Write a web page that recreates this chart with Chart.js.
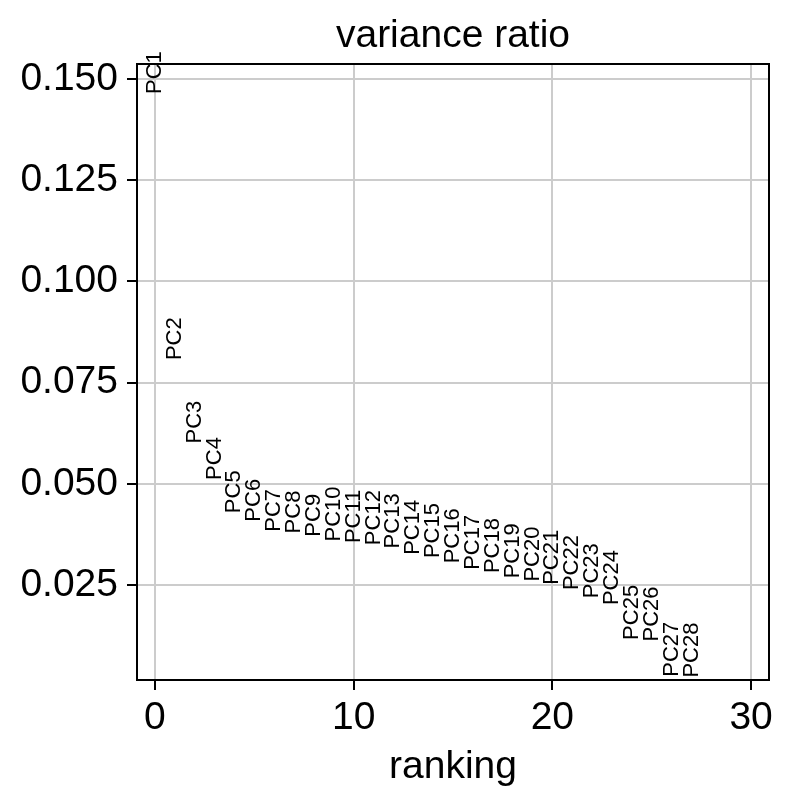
<!DOCTYPE html>
<html>
<head>
<meta charset="utf-8">
<script src="https://cdn.jsdelivr.net/npm/chart.js@4.4.1/dist/chart.umd.min.js"></script>
<style>
  html, body { margin: 0; padding: 0; background: #fff; }
  #wrap { width: 792px; height: 803px; }
</style>
</head>
<body>
<div id="wrap"><canvas id="chart" width="792" height="803"></canvas></div>
<script>
// values (scanpy pca_variance_ratio)
var PC_LABELS = ["PC1", "PC2", "PC3", "PC4", "PC5", "PC6", "PC7", "PC8", "PC9", "PC10",
  "PC11", "PC12", "PC13", "PC14", "PC15", "PC16", "PC17", "PC18", "PC19", "PC20",
  "PC21", "PC22", "PC23", "PC24", "PC25", "PC26", "PC27", "PC28"];
var RANKS = [0, 1, 2, 3, 4, 5, 6, 7, 8, 9, 10, 11, 12, 13, 14, 15, 16, 17, 18, 19,
  20, 21, 22, 23, 24, 25, 26, 27];
var VARIANCE_RATIO = [0.1463, 0.0806, 0.0600, 0.0510, 0.0428, 0.0407, 0.0382, 0.0378,
  0.0370, 0.0358, 0.0354, 0.0349, 0.0341, 0.0325, 0.0317, 0.0304, 0.0288, 0.0280,
  0.0267, 0.0259, 0.0251, 0.0238, 0.0218, 0.0201, 0.0115, 0.0111, 0.0024, 0.0022];
var X_TICKS = [0, 10, 20, 30];
var Y_TICKS = [0.025, 0.050, 0.075, 0.100, 0.125, 0.150];
var TITLE = "variance ratio";

var FONT = "'Liberation Sans', Arial, sans-serif";

var points = RANKS.map(function (r, i) {
  return { x: r, y: VARIANCE_RATIO[i] };
});

// PC names standing upright from each point, like ax.text(rotation=90, va=bottom)
var pcLabels = {
  id: "pcLabels",
  afterDatasetsDraw: function (chart) {
    var ctx = chart.ctx;
    var meta = chart.getDatasetMeta(0);
    ctx.save();
    ctx.fillStyle = "#000";
    ctx.font = "22px " + FONT;
    ctx.textAlign = "left";
    ctx.textBaseline = "middle";
    meta.data.forEach(function (pt, i) {
      ctx.save();
      ctx.translate(pt.x, pt.y);
      ctx.rotate(-Math.PI / 2);
      ctx.fillText(PC_LABELS[i], 0, 0);
      ctx.restore();
    });
    ctx.restore();
  }
};

// black box around the axes, title centred over the axes (matplotlib style)
var frame = {
  id: "frame",
  afterDraw: function (chart) {
    var a = chart.chartArea;
    var ctx = chart.ctx;
    ctx.save();
    ctx.strokeStyle = "#000";
    ctx.lineWidth = 2;
    ctx.strokeRect(a.left, a.top, a.right - a.left, a.bottom - a.top);
    ctx.fillStyle = "#000";
    ctx.font = "39px " + FONT;
    ctx.textAlign = "center";
    ctx.textBaseline = "alphabetic";
    ctx.fillText(TITLE, (a.left + a.right) / 2, a.top - 17);
    ctx.restore();
  }
};

Chart.defaults.font.family = FONT;
Chart.defaults.color = "#000";

new Chart(document.getElementById("chart"), {
  type: "scatter",
  data: {
    datasets: [{
      data: points,
      pointRadius: 0,
      pointHoverRadius: 0,
      showLine: false
    }]
  },
  options: {
    responsive: false,
    animation: false,
    events: [],
    layout: { padding: { left: 0, right: 23, top: 64, bottom: 0 } },
    plugins: {
      legend: { display: false },
      tooltip: { enabled: false },
      title: { display: false }
    },
    scales: {
      x: {
        type: "linear",
        min: -0.9,
        max: 30.9,
        afterBuildTicks: function (scale) {
          scale.ticks = X_TICKS.map(function (v) { return { value: v }; });
        },
        afterFit: function (scale) { scale.height = 123; },
        ticks: {
          font: { size: 39 },
          color: "#000",
          padding: 5,
          maxRotation: 0,
          autoSkip: false,
          callback: function (v) { return String(v); }
        },
        grid: {
          color: "#cccccc",
          lineWidth: 2,
          drawTicks: true,
          tickLength: 10,
          tickColor: "#000",
          tickWidth: 2
        },
        border: { display: false },
        title: {
          display: true,
          text: "ranking",
          color: "#000",
          font: { size: 39 },
          padding: { top: 0, bottom: 12 }
        }
      },
      y: {
        type: "linear",
        min: 0.0016,
        max: 0.1537,
        afterBuildTicks: function (scale) {
          scale.ticks = Y_TICKS.map(function (v) { return { value: v }; });
        },
        afterFit: function (scale) { scale.width = 137; },
        ticks: {
          font: { size: 39 },
          color: "#000",
          padding: 9,
          autoSkip: false,
          callback: function (v) { return v.toFixed(3); }
        },
        grid: {
          color: "#cccccc",
          lineWidth: 2,
          drawTicks: true,
          tickLength: 10,
          tickColor: "#000",
          tickWidth: 2
        },
        border: { display: false }
      }
    }
  },
  plugins: [pcLabels, frame]
});
</script>
</body>
</html>
